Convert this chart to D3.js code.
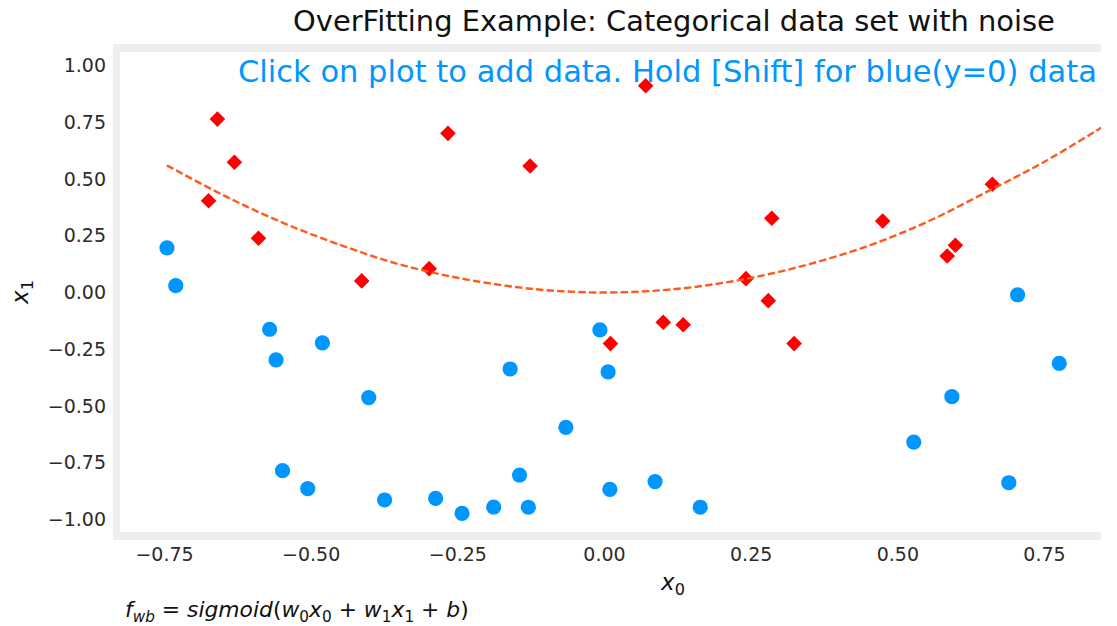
<!DOCTYPE html>
<html><head><meta charset="utf-8">
<script src="https://cdn.jsdelivr.net/npm/d3@7"></script>
<style>body{margin:0;background:#fff}svg{display:block}</style>
</head><body>
<svg id="c" width="1117" height="626"></svg>
<script>
// ---- data ----
const redX = [-0.659,-0.630,-0.674,-0.589,-0.413,-0.298,-0.266,-0.126,0.071,0.286,0.475,0.599,0.585,0.662,0.242,0.280,0.101,0.135,0.011,0.324];
const redY = [0.764,0.574,0.404,0.239,0.051,0.105,0.701,0.557,0.911,0.327,0.315,0.208,0.161,0.477,0.061,-0.036,-0.131,-0.142,-0.225,-0.225];
const blueX = [-0.745,-0.730,-0.007,0.007,0.010,0.087,0.164,0.528,0.593,0.690,0.705,0.776,-0.570,-0.559,-0.480,-0.401,-0.548,-0.505,-0.374,-0.287,-0.242,-0.188,-0.160,-0.144,-0.129,-0.065];
const blueY = [0.197,0.030,-0.165,-0.350,-0.867,-0.833,-0.946,-0.659,-0.459,-0.838,-0.010,-0.312,-0.162,-0.297,-0.222,-0.463,-0.785,-0.864,-0.914,-0.907,-0.973,-0.945,-0.337,-0.804,-0.946,-0.594];
const boundX = [-0.745,-0.65,-0.55,-0.45,-0.35,-0.25,-0.15,-0.075,0,0.075,0.15,0.25,0.35,0.45,0.55,0.65,0.75,0.85];
const boundY = [0.56,0.43,0.31,0.21,0.125,0.065,0.024,0.006,0,0.006,0.023,0.064,0.125,0.205,0.31,0.44,0.575,0.73];
const xTicks = [-0.75,-0.50,-0.25,0.00,0.25,0.50,0.75];
const yTicks = [1.00,0.75,0.50,0.25,0.00,-0.25,-0.50,-0.75,-1.00];
const titleText = "OverFitting Example: Categorical data set with noise";
const noteText = "Click on plot to add data. Hold [Shift] for blue(y=0) data";

const svg = d3.select("#c");
const FONT = "'DejaVu Sans', sans-serif";
const x = d3.scaleLinear().domain([-0.75,0.75]).range([164,1044]);
const y = d3.scaleLinear().domain([-1,1]).range([519.5,65.5]);

// frame
const L=113, T=44, R=1101, B=540;
svg.append("rect").attr("x",L).attr("y",T).attr("width",R-L).attr("height",B-T).attr("fill","#eeeeee");
svg.append("rect").attr("x",L+7).attr("y",T+8).attr("width",R-L-7).attr("height",B-T-16).attr("fill","#fff");
svg.append("clipPath").attr("id","clip").append("rect").attr("x",L+7).attr("y",T+8).attr("width",R-L-7).attr("height",B-T-16);

// axes
const fmt = d3.format(".2f");
const xa = svg.append("g").attr("transform",`translate(0,${B})`)
  .call(d3.axisBottom(x).tickValues(xTicks).tickFormat(fmt).tickSize(0).tickPadding(8));
const ya = svg.append("g").attr("transform",`translate(${L},0)`)
  .call(d3.axisLeft(y).tickValues(yTicks).tickFormat(fmt).tickSize(0).tickPadding(7));
[xa,ya].forEach(g=>{g.select(".domain").remove();
  g.selectAll("text").attr("font-family",FONT).attr("font-size",19).attr("fill","#2b2b2b");});

const plot = svg.append("g").attr("clip-path","url(#clip)");
// markers
plot.selectAll(".b").data(blueX).join("circle")
  .attr("cx",d=>x(d)).attr("cy",(d,i)=>y(blueY[i])).attr("r",7.6).attr("fill","#0096ff");
const sym = d3.symbol().type(d3.symbolSquare).size(122);
plot.selectAll(".r").data(redX).join("path")
  .attr("d",sym).attr("transform",(d,i)=>`translate(${x(d)},${y(redY[i])}) rotate(45)`).attr("fill","#ff0000");
// boundary
const line = d3.line().x(d=>x(d)).y((d,i)=>y(boundY[i])).curve(d3.curveCatmullRom);
plot.append("path").datum(boundX).attr("d",line).attr("fill","none")
  .attr("stroke","#ff5a1e").attr("stroke-width",2.4).attr("stroke-dasharray","7.4,3.2");

function fitText(sel, targetW){
  const w = sel.node().getBBox().width;
  const fs = parseFloat(sel.attr("font-size"));
  if(w>0){
    const k = targetW/w;
    sel.attr("font-size", fs*k);
    sel.selectAll("tspan").each(function(){
      const t = d3.select(this);
      if(t.attr("font-size")) t.attr("font-size", parseFloat(t.attr("font-size"))*k);
      if(t.attr("dy")) t.attr("dy", parseFloat(t.attr("dy"))*k);
    });
  }
}
// title
const t = svg.append("text").attr("x",674).attr("y",31).attr("text-anchor","middle")
  .attr("font-family",FONT).attr("font-size",22).attr("fill","#111").text(titleText);
fitText(t,762);
// note
const n = svg.append("text").attr("x",238).attr("y",82).attr("font-family",FONT)
  .attr("font-size",28).attr("fill","#0096ff").text(noteText);
fitText(n,859);

// math helper
function mathText(px,py,segs,fs,anchor){
  const g = svg.append("text").attr("x",px).attr("y",py).attr("font-family",FONT)
    .attr("font-size",fs).attr("fill","#111").attr("text-anchor",anchor||"start");
  let sub=false;
  segs.forEach(s=>{
    const ts = g.append("tspan").text(s.t).attr("font-style",s.i?"italic":"normal");
    if(s.s){ ts.attr("font-size",fs*0.7); if(!sub){ts.attr("dy",fs*0.22);sub=true;} }
    else { ts.attr("font-size",fs); if(sub){ts.attr("dy",-fs*0.22);sub=false;} }
  });
  return g;
}
mathText(673,590,[{t:"x",i:1},{t:"0",s:1}],23,"middle");
const yl = mathText(0,0,[{t:"x",i:1},{t:"1",s:1}],23,"middle");
yl.attr("transform","translate(28,292) rotate(-90)");
const f = mathText(125,617,[
  {t:"f",i:1},{t:"wb",i:1,s:1},{t:" = "},{t:"sigmoid",i:1},{t:"("},{t:"w",i:1},{t:"0",s:1},
  {t:"x",i:1},{t:"0",s:1},{t:" + "},{t:"w",i:1},{t:"1",s:1},{t:"x",i:1},{t:"1",s:1},{t:" + "},{t:"b",i:1},{t:")"}],20);
fitText(f,344);
</script>
</body></html>
